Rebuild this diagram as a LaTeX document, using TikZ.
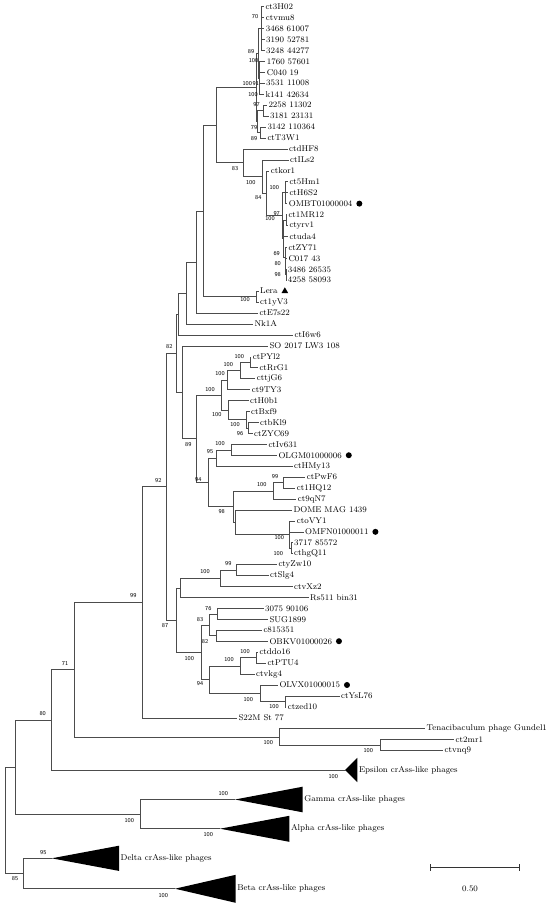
\documentclass[tikz,border=0pt]{standalone}
\usetikzlibrary{positioning,shapes.geometric}
\tikzset{
  br/.style={draw=black!70,line width=0.55pt},
  lab/.style={font=\fontsize{8.4}{10}\selectfont},
  leaf/.style={lab,anchor=west,inner sep=1.5pt},
  bs/.style={inner sep=0pt,font=\sffamily\fontsize{5.9}{6}\selectfont},
  dot/.style={circle,fill,inner sep=0pt,minimum size=6pt},
  tri/.style={regular polygon,regular polygon sides=3,fill,inner sep=0pt,minimum size=7.7pt},
}
\begin{document}
\begin{tikzpicture}[x=1pt,y=-1pt]
\useasboundingbox (0,0) rectangle (550,908);

% leaves
\node[leaf] (ct3H02) at (263.8,6.70) {ct3H02};
\node[leaf] (ctvmu8) at (264.2,17.64) {ctvmu8};
\node[leaf] (x3468) at (264.2,28.58) {3468 61007};
\node[leaf] (x3190) at (264.5,39.52) {3190 52781};
\node[leaf] (x3248) at (264.5,50.46) {3248 44277};
\node[leaf] (x1760) at (265.2,61.40) {1760 57601};
\node[leaf] (C040) at (265.2,72.34) {C040 19};
\node[leaf] (x3531) at (264.5,83.28) {3531 11008};
\node[leaf] (k141) at (263.8,94.22) {k141 42634};
\node[leaf] (x2258) at (266.8,105.16) {2258 11302};
\node[leaf] (x3181) at (268.5,116.10) {3181 23131};
\node[leaf] (x3142) at (265.8,127.04) {3142 110364};
\node[leaf] (ctT3W1) at (265.8,137.98) {ctT3W1};
\node[leaf] (ctdHF8) at (287.5,148.92) {ctdHF8};
\node[leaf] (ctILs2) at (288.5,159.86) {ctILs2};
\node[leaf] (ctkor1) at (269.2,170.80) {ctkor1};
\node[leaf] (ct5Hm1) at (287.8,181.74) {ct5Hm1};
\node[leaf] (ctH6S2) at (287.8,192.68) {ctH6S2};
\node[leaf] (OMBT) at (287.2,203.62) {OMBT01000004};
\node[leaf] (ct1MR12) at (286.8,214.56) {ct1MR12};
\node[leaf] (ctyrv1) at (287.8,225.50) {ctyrv1};
\node[leaf] (ctuda4) at (287.8,236.44) {ctuda4};
\node[leaf] (ctZY71) at (286.8,247.38) {ctZY71};
\node[leaf] (C017) at (286.8,258.32) {C017 43};
\node[leaf] (x3486) at (286.2,269.26) {3486 26535};
\node[leaf] (x4258) at (286.2,280.20) {4258 58093};
\node[leaf] (Lera) at (258.5,291.14) {Lera};
\node[leaf] (ct1yV3) at (258.5,302.08) {ct1yV3};
\node[leaf] (ctE7s22) at (257.8,313.02) {ctE7s22};
\node[leaf] (Nk1A) at (252.8,323.96) {Nk1A};
\node[leaf] (ctI6w6) at (293,334.90) {ctI6w6};
\node[leaf] (SO2017) at (267.8,345.84) {SO 2017 LW3 108};
\node[leaf] (ctPYl2) at (251.2,356.78) {ctPYl2};
\node[leaf] (ctRrG1) at (257.8,367.72) {ctRrG1};
\node[leaf] (cttjG6) at (255.2,378.66) {cttjG6};
\node[leaf] (ct9TY3) at (250.2,389.60) {ct9TY3};
\node[leaf] (ctH0b1) at (248.5,400.54) {ctH0b1};
\node[leaf] (ctBxf9) at (249.5,411.48) {ctBxf9};
\node[leaf] (ctbKl9) at (258.5,422.42) {ctbKl9};
\node[leaf] (ctZYC69) at (252.5,433.36) {ctZYC69};
\node[leaf] (ctIv631) at (266.8,444.30) {ctIv631};
\node[leaf] (OLGM) at (276.8,455.24) {OLGM01000006};
\node[leaf] (ctHMy13) at (292.5,466.18) {ctHMy13};
\node[leaf] (ctPwF6) at (305.2,477.12) {ctPwF6};
\node[leaf] (ct1HQ12) at (295.2,488.06) {ct1HQ12};
\node[leaf] (ct9qN7) at (296.2,499.00) {ct9qN7};
\node[leaf] (DOME) at (291.8,509.94) {DOME MAG 1439};
\node[leaf] (ctoVY1) at (295.2,520.88) {ctoVY1};
\node[leaf] (OMFN) at (303.5,531.82) {OMFN01000011};
\node[leaf] (x3717) at (292.5,542.76) {3717 85572};
\node[leaf] (cthgQ11) at (292.5,553.70) {cthgQ11};
\node[leaf] (ctyZw10) at (276.8,564.64) {ctyZw10};
\node[leaf] (ctSlg4) at (268.5,575.58) {ctSlg4};
\node[leaf] (ctvXz2) at (292.5,586.52) {ctvXz2};
\node[leaf] (Rs511) at (308.5,597.46) {Rs511 bin31};
\node[leaf] (x3075) at (263.5,608.40) {3075 90106};
\node[leaf] (SUG1899) at (267.8,619.34) {SUG1899};
\node[leaf] (c815351) at (261.8,630.28) {c815351};
\node[leaf] (OBKV) at (267.8,641.22) {OBKV01000026};
\node[leaf] (ctddo16) at (257.8,652.16) {ctddo16};
\node[leaf] (ctPTU4) at (265.8,663.10) {ctPTU4};
\node[leaf] (ctvkg4) at (254.5,674.04) {ctvkg4};
\node[leaf] (OLVX) at (277.8,684.98) {OLVX01000015};
\node[leaf] (ctYsL76) at (339.5,695.92) {ctYsL76};
\node[leaf] (ctzed10) at (286.2,706.86) {ctzed10};
\node[leaf] (S22M) at (236.8,717.80) {S22M St 77};
\node[leaf] (Tena) at (425,728.74) {Tenacibaculum phage Gundel1};
\node[leaf] (ct2mr1) at (454,739.68) {ct2mr1};
\node[leaf] (ctvnq9) at (443,750.62) {ctvnq9};

% markers
\node[dot,right=2pt of OMBT] (dOMBT) {};
\node[dot,right=2pt of OLGM] (dOLGM) {};
\node[dot,right=2pt of OMFN] (dOMFN) {};
\node[dot,right=2pt of OBKV] (dOBKV) {};
\node[dot,right=2pt of OLVX] (dOLVX) {};
\node[tri,right=3pt of Lera] (tLera) {};

% inner nodes
\coordinate (nU1) at (261,28.58);
\coordinate (nU2) at (259.5,77.81);
\coordinate (nU) at (258,53.2);
\coordinate (nL1) at (263,110.63);
\coordinate (nL2) at (260,132.51);
\coordinate (nL) at (257.5,121.57);
\coordinate (nT) at (256.7,87.38);
\coordinate (n83) at (243.3,162.73);
\coordinate (n100a) at (262.3,176.53);
\coordinate (n84) at (266.7,193.2);
\coordinate (nX) at (282,215.6);
\coordinate (nY) at (285,192.68);
\coordinate (nZ) at (283.5,238.5);
\coordinate (nW) at (286,220.03);
\coordinate (nZ2) at (285,256.96);
\coordinate (nZ3) at (285.5,266.53);
\coordinate (nZ4) at (286,274.73);
\coordinate (nA) at (216,125.06);
\coordinate (nLera) at (256,296.61);
\coordinate (nB) at (203.3,210.84);
\coordinate (nC) at (196.7,261.93);
\coordinate (nD) at (186.7,292.95);
\coordinate (nE) at (178,313.93);
\coordinate (nP1) at (250,362.25);
\coordinate (nP2) at (240,370.46);
\coordinate (nP3) at (227.3,380.03);
\coordinate (nQ3) at (248.3,427.89);
\coordinate (nQ2) at (246,419.69);
\coordinate (nQ1) at (228.3,410.11);
\coordinate (nG) at (221,395.07);
\coordinate (nIv) at (231.7,449.77);
\coordinate (n95) at (216.7,457.98);
\coordinate (nV1) at (283.3,482.59);
\coordinate (nV2) at (273.3,490.8);
\coordinate (n3717) at (291.5,548.23);
\coordinate (nH) at (289.3,534.56);
\coordinate (nI) at (235.5,522.25);
\coordinate (nJ) at (233,506.52);
\coordinate (n94) at (208.3,482.25);
\coordinate (n89) at (196.3,438.66);
\coordinate (nF) at (182.7,392.25);
\coordinate (n82) at (176.5,353.09);
\coordinate (nK2) at (236.7,570.11);
\coordinate (nK1) at (220.7,578.32);
\coordinate (nK) at (180.7,587.89);
\coordinate (nM1a) at (217.7,613.87);
\coordinate (nM1b) at (216,635.75);
\coordinate (nM1) at (209.3,624.81);
\coordinate (nM2aa) at (256,657.63);
\coordinate (nM2a) at (240.7,665.84);
\coordinate (nM2ba) at (285,701.39);
\coordinate (nM2b) at (260,693.19);
\coordinate (nM2) at (209.3,679.52);
\coordinate (nM) at (201.7,652.17);
\coordinate (n87) at (176.7,620.03);
\coordinate (n92) at (166.7,486.56);
\coordinate (n99) at (142.7,602.18);
\coordinate (nTN2) at (380,745.15);
\coordinate (nTN) at (279.3,736.95);
\coordinate (n71) at (74,669.57);
\coordinate (n80) at (51.7,719.79);
\coordinate (nGA) at (140,814.1);
\coordinate (n15) at (15,766.95);
\coordinate (n85) at (23.3,873.5);
\coordinate (root) at (5.3,820.2);

% collapsed clades
\coordinate (epsT) at (345,770);
\coordinate (gamT) at (235,799.5);
\coordinate (alpT) at (220,828.7);
\coordinate (delT) at (51.7,858.3);
\coordinate (betT) at (175,888.7);
\fill (epsT) -- (357.3,757.8) -- (357.3,782.2) -- cycle;
\fill (gamT) -- (302.7,786.7) -- (302.7,812.3) -- cycle;
\fill (alpT) -- (289.3,815.8) -- (289.3,841.8) -- cycle;
\fill (delT) -- (119,845.7) -- (119,870.9) -- cycle;
\fill (betT) -- (235.7,874.8) -- (235.7,902.8) -- cycle;
\node[leaf] (eps) at (357.3,770) {Epsilon crAss-like phages};
\node[leaf] (gam) at (302.7,799.5) {Gamma crAss-like phages};
\node[leaf] (alp) at (289.3,828.7) {Alpha crAss-like phages};
\node[leaf] (del) at (119,858.3) {Delta crAss-like phages};
\node[leaf] (bet) at (235.7,888.7) {Beta crAss-like phages};

% branches
\draw[br] (nU1) |- (ct3H02.west) (nU1) |- (ctvmu8.west) (nU1) |- (x3468.west) (nU1) |- (x3190.west) (nU1) |- (x3248.west);
\draw[br] (nU2) |- (x1760.west) (nU2) |- (C040.west) (nU2) |- (x3531.west) (nU2) |- (k141.west);
\draw[br] (nU) |- (nU1) (nU) |- (nU2);
\draw[br] (nL1) |- (x2258.west) (nL1) |- (x3181.west);
\draw[br] (nL2) |- (x3142.west) (nL2) |- (ctT3W1.west);
\draw[br] (nL) |- (nL1) (nL) |- (nL2);
\draw[br] (nT) |- (nU) (nT) |- (nL);
\draw[br] (nW) |- (ct1MR12.west) (nW) |- (ctyrv1.west);
\draw[br] (nZ4) |- (x3486.west) (nZ4) |- (x4258.west);
\draw[br] (nZ3) |- (C017.west) (nZ3) |- (nZ4);
\draw[br] (nZ2) |- (ctZY71.west) (nZ2) |- (nZ3);
\draw[br] (nZ) |- (nW) (nZ) |- (ctuda4.west) (nZ) |- (nZ2);
\draw[br] (nY) |- (ct5Hm1.west) (nY) |- (ctH6S2.west) (nY) |- (OMBT.west);
\draw[br] (nX) |- (nY) (nX) |- (nZ);
\draw[br] (n84) |- (ctkor1.west) (n84) |- (nX);
\draw[br] (n100a) |- (ctILs2.west) (n100a) |- (n84);
\draw[br] (n83) |- (ctdHF8.west) (n83) |- (n100a);
\draw[br] (nA) |- (nT) (nA) |- (n83);
\draw[br] (nLera) |- (Lera.west) (nLera) |- (ct1yV3.west);
\draw[br] (nB) |- (nA) (nB) |- (nLera);
\draw[br] (nC) |- (nB) (nC) |- (ctE7s22.west);
\draw[br] (nD) |- (nC) (nD) |- (Nk1A.west);
\draw[br] (nE) |- (nD) (nE) |- (ctI6w6.west);
\draw[br] (nP1) |- (ctPYl2.west) (nP1) |- (ctRrG1.west);
\draw[br] (nP2) |- (nP1) (nP2) |- (cttjG6.west);
\draw[br] (nP3) |- (nP2) (nP3) |- (ct9TY3.west);
\draw[br] (nQ3) |- (ctbKl9.west) (nQ3) |- (ctZYC69.west);
\draw[br] (nQ2) |- (ctBxf9.west) (nQ2) |- (nQ3);
\draw[br] (nQ1) |- (ctH0b1.west) (nQ1) |- (nQ2);
\draw[br] (nG) |- (nP3) (nG) |- (nQ1);
\draw[br] (nIv) |- (ctIv631.west) (nIv) |- (OLGM.west);
\draw[br] (n95) |- (nIv) (n95) |- (ctHMy13.west);
\draw[br] (nV1) |- (ctPwF6.west) (nV1) |- (ct1HQ12.west);
\draw[br] (nV2) |- (nV1) (nV2) |- (ct9qN7.west);
\draw[br] (n3717) |- (x3717.west) (n3717) |- (cthgQ11.west);
\draw[br] (nH) |- (ctoVY1.west) (nH) |- (OMFN.west) (nH) |- (n3717);
\draw[br] (nI) |- (DOME.west) (nI) |- (nH);
\draw[br] (nJ) |- (nV2) (nJ) |- (nI);
\draw[br] (n94) |- (n95) (n94) |- (nJ);
\draw[br] (n89) |- (nG) (n89) |- (n94);
\draw[br] (nF) |- (SO2017.west) (nF) |- (n89);
\draw[br] (n82) |- (nE) (n82) |- (nF);
\draw[br] (nK2) |- (ctyZw10.west) (nK2) |- (ctSlg4.west);
\draw[br] (nK1) |- (nK2) (nK1) |- (ctvXz2.west);
\draw[br] (nK) |- (nK1) (nK) |- (Rs511.west);
\draw[br] (nM1a) |- (x3075.west) (nM1a) |- (SUG1899.west);
\draw[br] (nM1b) |- (c815351.west) (nM1b) |- (OBKV.west);
\draw[br] (nM1) |- (nM1a) (nM1) |- (nM1b);
\draw[br] (nM2aa) |- (ctddo16.west) (nM2aa) |- (ctPTU4.west);
\draw[br] (nM2a) |- (nM2aa) (nM2a) |- (ctvkg4.west);
\draw[br] (nM2ba) |- (ctYsL76.west) (nM2ba) |- (ctzed10.west);
\draw[br] (nM2b) |- (OLVX.west) (nM2b) |- (nM2ba);
\draw[br] (nM2) |- (nM2a) (nM2) |- (nM2b);
\draw[br] (nM) |- (nM1) (nM) |- (nM2);
\draw[br] (n87) |- (nK) (n87) |- (nM);
\draw[br] (n92) |- (n82) (n92) |- (n87);
\draw[br] (n99) |- (n92) (n99) |- (S22M.west);
\draw[br] (nTN2) |- (ct2mr1.west) (nTN2) |- (ctvnq9.west);
\draw[br] (nTN) |- (Tena.west) (nTN) |- (nTN2);
\draw[br] (n71) |- (n99) (n71) |- (nTN);
\draw[br] (n80) |- (n71) (n80) |- (epsT);
\draw[br] (nGA) |- (gamT) (nGA) |- (alpT);
\draw[br] (n15) |- (n80) (n15) |- (nGA);
\draw[br] (n85) |- (delT) (n85) |- (betT);
\draw[br] (root) |- (n15) (root) |- (n85);

% bootstrap values
\node[bs] (b01) at (255,16.7) {70};
\node[bs] (b02) at (251,51.7) {89};
\node[bs] (b03) at (253.5,61) {100};
\node[bs] (b04) at (247.2,83.3) {100};
\node[bs] (b05) at (255.8,83.3) {91};
\node[bs] (b06) at (253,94.3) {100};
\node[bs] (b07) at (256.5,104.3) {97};
\node[bs] (b08) at (254,127.3) {79};
\node[bs] (b09) at (254,138.3) {89};
\node[bs] (b10) at (235,168.3) {83};
\node[bs] (b11) at (250.7,182.7) {100};
\node[bs] (b12) at (258.3,197.7) {84};
\node[bs] (b13) at (274.3,187.3) {100};
\node[bs] (b14) at (276.7,213.3) {97};
\node[bs] (b15) at (270,218.3) {100};
\node[bs] (b16) at (276.7,253.3) {69};
\node[bs] (b17) at (277.7,264) {80};
\node[bs] (b18) at (277.7,275) {98};
\node[bs] (b19) at (245,300) {100};
\node[bs] (b20) at (169.3,346.7) {82};
\node[bs] (b21) at (239.3,356.7) {100};
\node[bs] (b22) at (228.3,364.3) {100};
\node[bs] (b23) at (220,374) {100};
\node[bs] (b24) at (210,389.3) {100};
\node[bs] (b25) at (216.7,415) {100};
\node[bs] (b26) at (235,425) {100};
\node[bs] (b27) at (240,433.3) {96};
\node[bs] (b28) at (188.3,444.3) {89};
\node[bs] (b29) at (220,443.3) {100};
\node[bs] (b30) at (210,451.7) {95};
\node[bs] (b31) at (198.3,480) {94};
\node[bs] (b32) at (275,476.7) {99};
\node[bs] (b33) at (261.7,485) {100};
\node[bs] (b34) at (221.7,511.7) {98};
\node[bs] (b35) at (279.3,538) {100};
\node[bs] (b36) at (278.3,553.3) {100};
\node[bs] (b37) at (228.3,564) {99};
\node[bs] (b38) at (205,571.7) {100};
\node[bs] (b39) at (165,625.7) {87};
\node[bs] (b40) at (208.3,608.3) {76};
\node[bs] (b41) at (200,619.3) {83};
\node[bs] (b42) at (205,641.7) {82};
\node[bs] (b43) at (189.3,658.3) {100};
\node[bs] (b44) at (245,651.7) {100};
\node[bs] (b45) at (229,660) {100};
\node[bs] (b46) at (200,684) {94};
\node[bs] (b47) at (248.3,699.3) {100};
\node[bs] (b48) at (274,706.7) {100};
\node[bs] (b49) at (133.3,596) {99};
\node[bs] (b50) at (158.3,480.3) {92};
\node[bs] (b51) at (65,663.3) {71};
\node[bs] (b52) at (42.7,714) {80};
\node[bs] (b53) at (268.3,742.7) {100};
\node[bs] (b54) at (368.3,751) {100};
\node[bs] (b55) at (333.3,776.7) {100};
\node[bs] (b56) at (223.3,794) {100};
\node[bs] (b57) at (129.3,820.3) {100};
\node[bs] (b58) at (208.3,835) {100};
\node[bs] (b59) at (43.3,852.3) {95};
\node[bs] (b60) at (15,879) {85};
\node[bs] (b61) at (163.3,895.7) {100};

% scale bar
\coordinate (sbl) at (430,867.3);
\coordinate (sbr) at (519.3,867.3);
\draw[draw=black!80,line width=0.8pt,|-|] (sbl) -- (sbr);
\node[lab] (sbt) at (470,889) {0.50};
\end{tikzpicture}
\end{document}
